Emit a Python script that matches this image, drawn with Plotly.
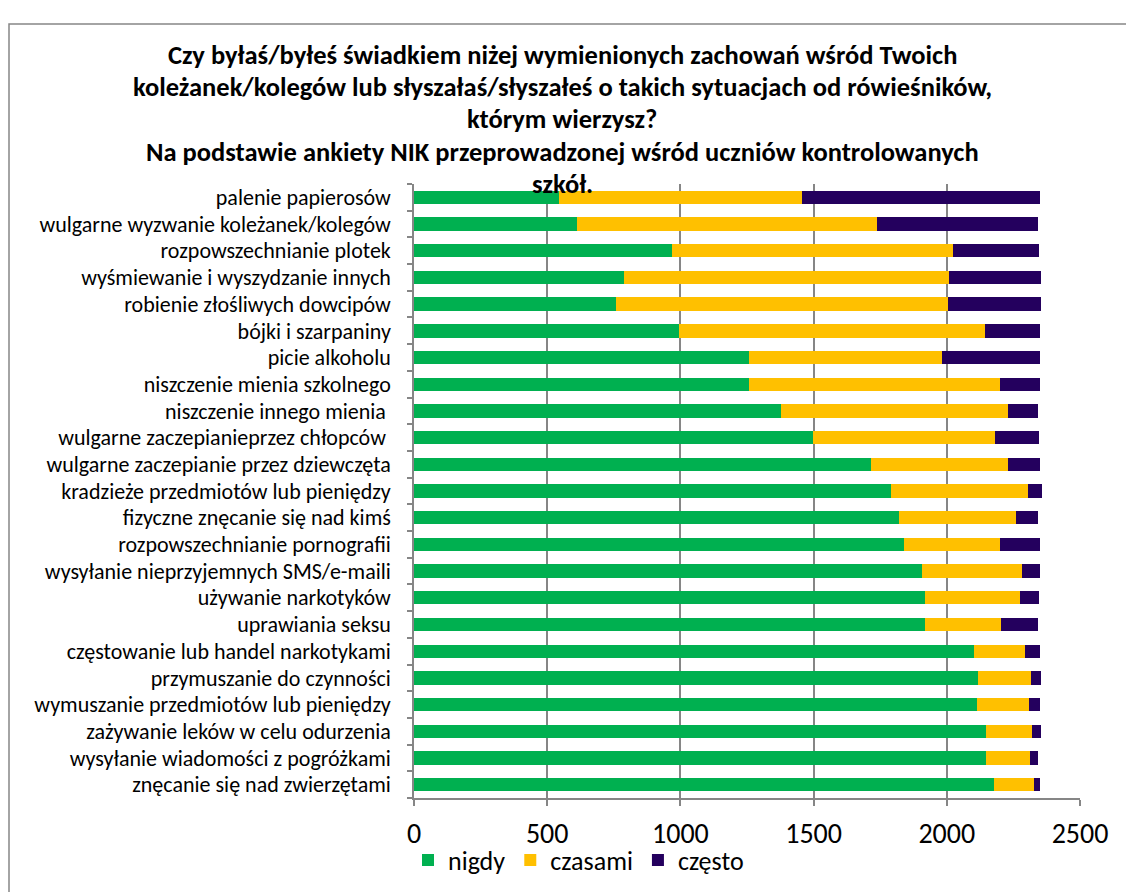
import plotly.graph_objects as go

categories = [
    "palenie papierosów",
    "wulgarne wyzwanie koleżanek/kolegów",
    "rozpowszechnianie plotek",
    "wyśmiewanie i wyszydzanie innych",
    "robienie złośliwych dowcipów",
    "bójki i szarpaniny",
    "picie alkoholu",
    "niszczenie mienia szkolnego",
    "niszczenie innego mienia ",
    "wulgarne zaczepianieprzez chłopców ",
    "wulgarne zaczepianie przez dziewczęta",
    "kradzieże przedmiotów lub pieniędzy",
    "fizyczne znęcanie się nad kimś",
    "rozpowszechnianie pornografii",
    "wysyłanie nieprzyjemnych SMS/e-maili",
    "używanie narkotyków",
    "uprawiania seksu",
    "częstowanie lub handel narkotykami",
    "przymuszanie do czynności",
    "wymuszanie przedmiotów lub pieniędzy",
    "zażywanie leków w celu odurzenia",
    "wysyłanie wiadomości z pogróżkami",
    "znęcanie się nad zwierzętami",
]

nigdy = [545, 612, 970, 790, 760, 993, 1257, 1257, 1376, 1498, 1715, 1790,
         1819, 1839, 1906, 1918, 1918, 2103, 2116, 2113, 2146, 2146, 2176]
czasami = [910, 1125, 1054, 1219, 1245, 1152, 725, 943, 854, 683, 513, 514,
           441, 361, 378, 357, 285, 191, 201, 194, 173, 168, 151]
czesto = [896, 607, 323, 345, 349, 206, 367, 151, 114, 166, 123, 52,
          84, 151, 67, 71, 141, 57, 37, 44, 34, 28, 24]

series_names = ["nigdy", "czasami", "często"]
series_colors = ["#00B050", "#FFC000", "#24005E"]

title_lines = [
    "Czy byłaś/byłeś świadkiem niżej wymienionych zachowań wśród Twoich",
    "koleżanek/kolegów lub słyszałaś/słyszałeś o takich sytuacjach od rówieśników,",
    "którym wierzysz?",
    "Na podstawie ankiety NIK przeprowadzonej wśród uczniów kontrolowanych",
    "szkół.",
]

FONT = "Carlito, Calibri, Lato, 'Open Sans', sans-serif"

fig = go.Figure()
for name, vals, col in zip(series_names, [nigdy, czasami, czesto], series_colors):
    fig.add_trace(go.Bar(
        y=categories, x=vals, name=name, orientation="h",
        marker=dict(color=col, line=dict(width=0)),
    ))

# page body has an 8px margin, so figure coords = page coords - 8
OFF = 8
W, H = 1134 - OFF, 892 - OFF
L, R, T, B = 414 - OFF, 1080 - OFF, 184 - OFF, 798 - OFF


def px(x):
    return (x - OFF - L) / (R - L)


def py(y):
    return (B - (y - OFF)) / (B - T)


fig.update_layout(
    width=W, height=H,
    barmode="stack", bargap=0.5,
    paper_bgcolor="white", plot_bgcolor="white",
    margin=dict(l=L, r=W - R, t=T, b=H - B, autoexpand=False),
    font=dict(family=FONT, color="#000000"),
    showlegend=True,
    legend=dict(orientation="h", x=px(408), y=py(860),
                xanchor="left", yanchor="middle", font=dict(size=26, family=FONT),
                traceorder="normal", itemwidth=30, bgcolor="rgba(0,0,0,0)"),
)

fig.update_xaxes(
    range=[0, 2500], dtick=500, tick0=0,
    showgrid=True, gridcolor="#868686", gridwidth=1.5,
    showline=True, linecolor="#868686", linewidth=1.5,
    ticks="outside", ticklen=6, tickcolor="#868686", tickwidth=1.5,
    tickfont=dict(size=28, family=FONT, color="#000"),
    ticklabelstandoff=4,
    zeroline=False, fixedrange=True,
)
fig.update_yaxes(
    autorange="reversed", type="category",
    tickmode="array", tickvals=categories, ticktext=categories,
    showline=True, linecolor="#868686", linewidth=1.5,
    ticks="outside", ticklen=5, tickcolor="#868686", tickwidth=1.5,
    tickson="boundaries",
    tickfont=dict(size=22, family=FONT, color="#000"),
    ticklabelstandoff=17,
    showgrid=False, fixedrange=True,
)

# chart frame
fig.add_shape(type="rect", xref="paper", yref="paper",
              x0=px(9), x1=px(1145), y0=py(905), y1=py(24),
              line=dict(color="#868686", width=1.5), fillcolor="rgba(0,0,0,0)", layer="below")

title_y = [55, 87, 119, 152, 184]
for line, yy in zip(title_lines, title_y):
    fig.add_annotation(
        text="<b>" + line + "</b>", xref="paper", yref="paper",
        x=px(562), y=py(yy),
        xanchor="center", yanchor="middle", showarrow=False,
        font=dict(size=26.5, family=FONT, color="#000"),
    )

fig.write_html("out.html")
